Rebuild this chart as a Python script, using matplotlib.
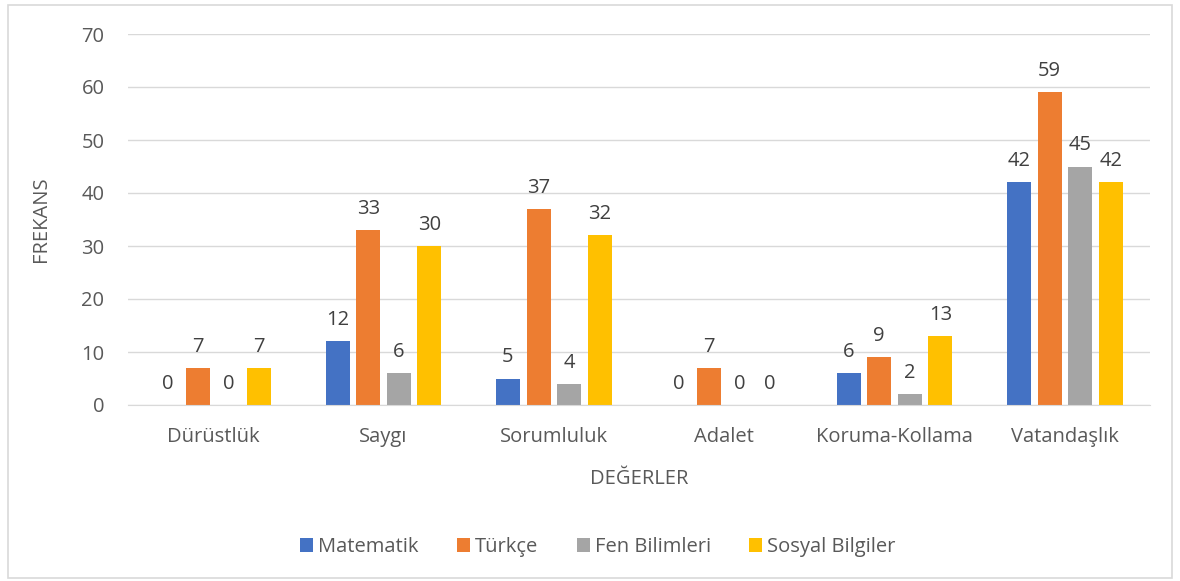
import matplotlib
matplotlib.use("Agg")
import matplotlib.pyplot as plt
import numpy as np
from matplotlib.patches import Rectangle

categories = ["Dürüstlük", "Saygı", "Sorumluluk", "Adalet", "Koruma-Kollama", "Vatandaşlık"]
series_names = ["Matematik", "Türkçe", "Fen Bilimleri", "Sosyal Bilgiler"]
matematik = [0, 12, 5, 0, 6, 42]
turkce = [7, 33, 37, 7, 9, 59]
fen = [0, 6, 4, 0, 2, 45]
sosyal = [7, 30, 32, 0, 13, 42]
colors = ["#4472C4", "#ED7D31", "#A5A5A5", "#FFC000"]
y_ticks = [0, 10, 20, 30, 40, 50, 60, 70]

plt.rcParams['font.family'] = ['Open Sans', 'DejaVu Sans']
txt = "#595959"
fs = 14.5

fig = plt.figure(figsize=(11.8, 5.81), dpi=100)
ax = fig.add_axes([128/1180, 1-405/581, (1150-128)/1180, (405-34)/581])

x = np.arange(len(categories))
width = 24/170
pitch = 30.5/170
all_series = [matematik, turkce, fen, sosyal]
for i, (vals, name, c) in enumerate(zip(all_series, series_names, colors)):
    offs = (i - 1.5) * pitch
    ax.bar(x + offs, vals, width, color=c, label=name, zorder=3)
    for xi, v in zip(x, vals):
        ax.annotate(str(v), (xi + offs, v), xytext=(0, 8), textcoords="offset points",
                    ha="center", va="bottom", fontsize=fs, color="#404040")

ax.set_xlim(-0.5, len(categories) - 0.5)
ax.set_ylim(0, 70)
ax.set_yticks(y_ticks)
ax.set_xticks(x)
ax.set_xticklabels(categories)
ax.tick_params(axis='both', length=0, labelsize=fs, colors=txt)
ax.tick_params(axis='y', pad=17)
ax.tick_params(axis='x', pad=16)
ax.grid(axis='y', color="#D9D9D9", linewidth=1, zorder=0)
for s in ["top", "right", "left"]:
    ax.spines[s].set_visible(False)
ax.spines["bottom"].set_color("#D9D9D9")
ax.spines["bottom"].set_zorder(4)

ax.set_xlabel("DEĞERLER", fontsize=fs, color=txt, labelpad=16)
ax.set_ylabel("FREKANS", fontsize=fs, color=txt, labelpad=22)

fig.legend(loc="center", bbox_to_anchor=(598/1180, 1-547/581), ncol=4, frameon=False,
           fontsize=fs, handlelength=0.65, handleheight=0.65, handletextpad=0.25,
           columnspacing=1.9, labelcolor=txt)

fig.patches.append(Rectangle((8/1180, 3/581), (1172-8)/1180, (576-3)/581,
                             transform=fig.transFigure, fill=False, edgecolor="#D9D9D9", linewidth=1.2))

fig.savefig("out.png", dpi=100)
